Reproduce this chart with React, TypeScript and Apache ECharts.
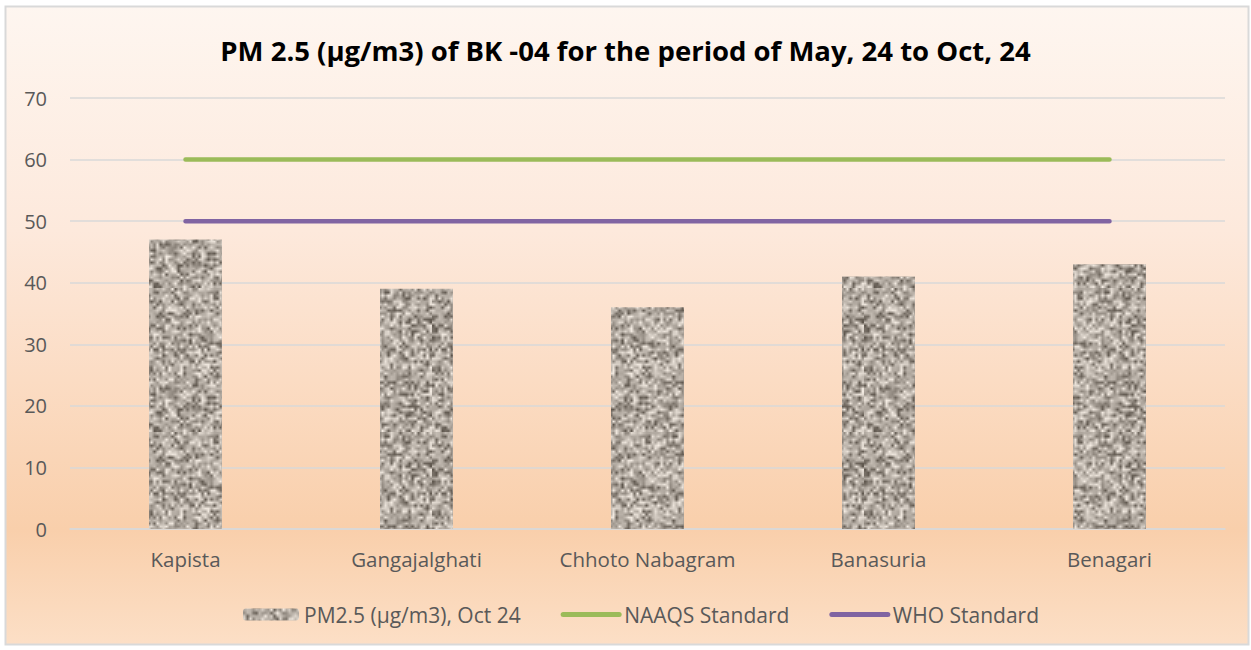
import React, { useEffect, useRef } from "react";
import * as echarts from "echarts";

const categories = ["Kapista", "Gangajalghati", "Chhoto Nabagram", "Banasuria", "Benagari"];
const pmValues = [47, 39, 36, 41, 43];
const naaqsValues = [60, 60, 60, 60, 60];
const whoValues = [50, 50, 50, 50, 50];
const yTicks = { min: 0, max: 70, interval: 10 };

const titleText = "PM 2.5 (µg/m3) of BK -04 for the period of May, 24 to Oct, 24";
const seriesNames = ["PM2.5 (µg/m3), Oct 24", "NAAQS Standard", "WHO Standard"];

function makeTexture(): string {
  const small = document.createElement("canvas");
  const n = 48;
  small.width = n;
  small.height = n;
  const sctx = small.getContext("2d")!;
  const img = sctx.createImageData(n, n);
  let seed = 12345;
  const rnd = () => {
    seed = (seed * 1103515245 + 12345) & 0x7fffffff;
    return seed / 0x7fffffff;
  };
  for (let i = 0; i < n * n; i++) {
    const r = rnd();
    let v: number;
    if (r < 0.15) v = 85 + rnd() * 30;
    else if (r < 0.38) v = 128 + rnd() * 25;
    else if (r < 0.75) v = 162 + rnd() * 25;
    else v = 195 + rnd() * 40;
    img.data[i * 4] = v + 9;
    img.data[i * 4 + 1] = v + 1;
    img.data[i * 4 + 2] = v - 8;
    img.data[i * 4 + 3] = 255;
  }
  sctx.putImageData(img, 0, 0);
  const big = document.createElement("canvas");
  big.width = n * 3;
  big.height = n * 3;
  const bctx = big.getContext("2d")!;
  bctx.imageSmoothingEnabled = true;
  bctx.drawImage(small, 0, 0, n * 3, n * 3);
  return big.toDataURL();
}

export default function App() {
  const ref = useRef<HTMLDivElement>(null);
  useEffect(() => {
    document.body.style.margin = "0";
    const chart = echarts.init(ref.current!, undefined, { renderer: "svg" });
    const tex = makeTexture();
    const font = "'Open Sans', sans-serif";
    chart.setOption({
      animation: false,
      backgroundColor: "#ffffff",
      textStyle: { fontFamily: font },
      graphic: [
        {
          type: "rect",
          z: -10,
          silent: true,
          shape: { x: 5.5, y: 6.5, width: 1243, height: 638 },
          style: {
            fill: {
              type: "linear",
              x: 0,
              y: 0,
              x2: 0,
              y2: 1,
              colorStops: [
                { offset: 0, color: "#fef6f0" },
                { offset: 0.35, color: "#fde9dc" },
                { offset: 0.82, color: "#f9cfab" },
                { offset: 1, color: "#fcdfc6" },
              ],
            },
            stroke: "#d9d9d9",
            lineWidth: 2,
          },
        },
      ],
      title: {
        text: titleText,
        left: "center",
        top: 31,
        textStyle: { fontFamily: font, fontSize: 27.5, fontWeight: "bold", color: "#000000" },
      },
      grid: { left: 70, right: 26, top: 98, bottom: 121 },
      legend: {
        top: 599,
        left: 238,
        itemWidth: 56,
        itemHeight: 12,
        itemGap: 40,
        textStyle: { fontFamily: font, fontSize: 21, color: "#595959" },
        data: [
          { name: seriesNames[0] },
          { name: seriesNames[1], itemStyle: { opacity: 0 }, lineStyle: { width: 5 } },
          { name: seriesNames[2], itemStyle: { opacity: 0 }, lineStyle: { width: 5 } },
        ],
      },
      xAxis: {
        type: "category",
        data: categories,
        axisLine: { show: true, lineStyle: { color: "#d9d9d9", width: 1.5 } },
        axisTick: { show: false },
        axisLabel: { color: "#595959", fontSize: 20.5, margin: 19, fontFamily: font, interval: 0 },
      },
      yAxis: {
        type: "value",
        min: yTicks.min,
        max: yTicks.max,
        interval: yTicks.interval,
        axisLine: { show: false },
        axisTick: { show: false },
        splitLine: { lineStyle: { color: "#d9d9d9", width: 1.5 } },
        axisLabel: { color: "#595959", fontSize: 20, margin: 23, fontFamily: font },
      },
      series: [
        {
          name: seriesNames[0],
          type: "bar",
          data: pmValues,
          barWidth: 73,
          itemStyle: { color: { image: tex, repeat: "repeat" } as any },
        },
        {
          name: seriesNames[1],
          type: "line",
          data: naaqsValues,
          symbol: "none",
          lineStyle: { color: "#9bbb59", width: 4.5, cap: "round" },
          itemStyle: { color: "#9bbb59" },
        },
        {
          name: seriesNames[2],
          type: "line",
          data: whoValues,
          symbol: "none",
          lineStyle: { color: "#8064a2", width: 4.5, cap: "round" },
          itemStyle: { color: "#8064a2" },
        },
      ],
    });
    return () => chart.dispose();
  }, []);
  return <div ref={ref} style={{ width: 1251, height: 650 }} />;
}
